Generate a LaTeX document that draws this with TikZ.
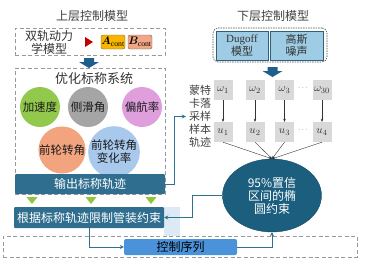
\documentclass[tikz,border=0pt]{standalone}
\usepackage{bm}
\usepackage{fontspec}
\setmainfont{Liberation Serif}
\newfontfamily\cjk{Noto Sans CJK SC}
\usetikzlibrary{arrows.meta,positioning,shapes.geometric}

\definecolor{barblue}{HTML}{2F6E8E}
\definecolor{ellblue}{HTML}{1B5E7E}
\definecolor{seqblue}{HTML}{4A93DB}
\definecolor{flowblue}{HTML}{2E7191}
\definecolor{blockblue}{HTML}{1F5F8C}
\definecolor{ballgreen}{HTML}{92C94C}
\definecolor{ballgray}{HTML}{A5A5A5}
\definecolor{ballpink}{HTML}{DE9FDC}
\definecolor{ballorange}{HTML}{F2A47F}
\definecolor{ballblue}{HTML}{A8C8EC}
\definecolor{chipA}{HTML}{F7B500}
\definecolor{chipB}{HTML}{F3A686}
\definecolor{redmark}{HTML}{C00000}
\definecolor{matfill}{HTML}{9DCCE4}
\definecolor{matline}{HTML}{2F5F7A}
\definecolor{paleblue}{HTML}{DCEAF6}
\definecolor{trigreen}{HTML}{8DC63F}

\tikzset{
  cn/.style={font=\cjk\fontsize{12}{13}\selectfont},
  heading/.style={cn, text=black!75},
  side/.style={font=\cjk\fontsize{11}{13}\selectfont, text=black!75, align=center, inner sep=3pt},
  dashframe/.style={draw=black!40, dash pattern=on 4pt off 2.5pt, line width=0.7pt, inner sep=0pt},
  dotframe/.style={draw=black!70, dash pattern=on 1.5pt off 1pt, line width=0.6pt, rounded corners=5pt, inner sep=0pt},
  ball/.style={circle, minimum size=40pt, inner sep=0pt, font=\cjk\fontsize{11.5}{13}\selectfont, text=black!90, align=center},
  bar/.style={fill=barblue, rounded corners=1pt, text=white, cn, minimum width=150pt, minimum height=20pt, inner sep=0pt},
  chip/.style={draw=black!60, rounded corners=2pt, minimum width=24pt, minimum height=14pt, inner sep=0pt, font=\fontsize{11}{13}\selectfont},
  mat/.style={draw=matline, fill=matfill, minimum width=52pt, minimum height=29pt, inner sep=0pt, align=center, text=black!80, font=\fontsize{11}{12.5}\selectfont},
  wbox/.style={fill=black!15, minimum width=19pt, minimum height=20pt, inner sep=0pt, text=black!80, font=\fontsize{11}{13}\selectfont},
  flow/.style={-{Stealth[length=4pt,width=4pt]}, draw=flowblue, line width=1pt},
  tap/.style={-{Stealth[length=3pt,width=2.5pt]}, draw=black!80, line width=0.4pt},
}

\begin{document}
\begin{tikzpicture}[x=1pt,y=-1pt]
\useasboundingbox (0,0) rectangle (372,266);

% upper control model
\node[heading] (uptitle) at (92,16) {上层控制模型};
\node[dashframe, minimum width=150pt, minimum height=27pt] (dynframe) at (90,41.5) {};
\node[cn, align=center, text=black!80] (dyn) at (49,42) {双轨动力\\学模型};
\fill[redmark] (85,37) -- (93,42) -- (85,47) -- cycle;
\node[chip, fill=chipA] (Acont) at (113,42) {$\bm{A}_{\mathrm{cont}}$};
\node[chip, fill=chipB] (Bcont) at (140,42) {$\bm{B}_{\mathrm{cont}}$};

% block arrows
\foreach \ax/\ay in {89/58, 272.5/67} {
  \fill[blockblue] (\ax-5,\ay) -- ++(10,0) -- ++(0,4) -- ++(5,0) -- (\ax,\ay+10) -- (\ax-10,\ay+4) -- ++(5,0) -- cycle;
}

% nominal system
\node[dashframe, minimum width=150pt, minimum height=126pt] (optframe) at (90,131) {};
\node[cn, font=\cjk\fontsize{13}{14}\selectfont, text=black!80] (opt) at (94,79) {优化标称系统};
\node[ball, fill=ballgreen] (acc) at (40,107) {加速度};
\node[ball, fill=ballgray] (slip) at (88,107) {侧滑角};
\node[ball, fill=ballpink] (yaw) at (142,107) {偏航率};
\node[ball, fill=ballorange] (steer) at (62,150) {前轮转角};
\node[ball, fill=ballblue] (rate) at (114,152) {前轮转角\\变化率};
\node[bar] (out) at (90,184) {输出标称轨迹};

\foreach \tx in {32,91,151} {
  \fill[trigreen] (\tx-5.5,197) -- (\tx+5.5,197) -- (\tx,204) -- cycle;
}

\fill[paleblue] (164,207) rectangle (180,236);
\node[bar, minimum height=21pt] (limit) at (89,217.5) {根据标称轨迹限制管装约束};

% control sequence
\node[dashframe, minimum width=354pt, minimum height=21pt] (seqframe) at (180,246.5) {};
\node[fill=seqblue, rounded corners=2pt, minimum width=113pt, minimum height=16pt, inner sep=0pt, cn] (seq) at (180.5,247) {控制序列};

% lower control model
\node[heading] (lowtitle) at (273,16) {下层控制模型};
\node[dotframe, minimum width=114pt, minimum height=34pt] (lowframe) at (270,45) {};
\node[mat] (dug) at (242,45.5) {Dugoff\\{\cjk 模型}};
\node[mat, minimum width=53pt] (gauss) at (296.5,45.5) {{\cjk 高斯}\\{\cjk 噪声}};

\node[ellipse, fill=ellblue, draw=ellblue!80!black, minimum width=99pt, minimum height=73pt, inner sep=0pt, text=white, cn, align=center] (conf) at (272,195.5) {95\%置信\\区间的椭\\圆约束};

% monte carlo samples
\foreach \i/\x/\w in {1/223/1, 2/255/2, 3/284.5/3, 4/322/30} {
  \node[wbox] (w\i) at (\x,90) {$\omega_{\w}$};
  \node[wbox] (u\i) at (\x,132) {$u_{\i}$};
  \draw[tap] (w\i) -- (u\i);
  \draw[tap] (u\i.south) -- (conf.north);
}
\node[text=black!70, font=\scriptsize] (wdots) at (303,88) {$\cdots$};
\node[text=black!70, font=\scriptsize] (udots) at (303,130) {$\cdots$};
\node[side] (mc) at (200,116.5) {蒙特\\卡落\\采样\\样本\\轨迹};

% connectors
\draw[flow] (out.east) -- ++(9,0) |- (mc.west);
\draw[flow] (conf.west) -- ++(-30,0) |- (limit.east);
\draw[flow] (limit.south) |- (seq.west);
\draw[flow] (seq.east) -| (conf.south);
\end{tikzpicture}
\end{document}
